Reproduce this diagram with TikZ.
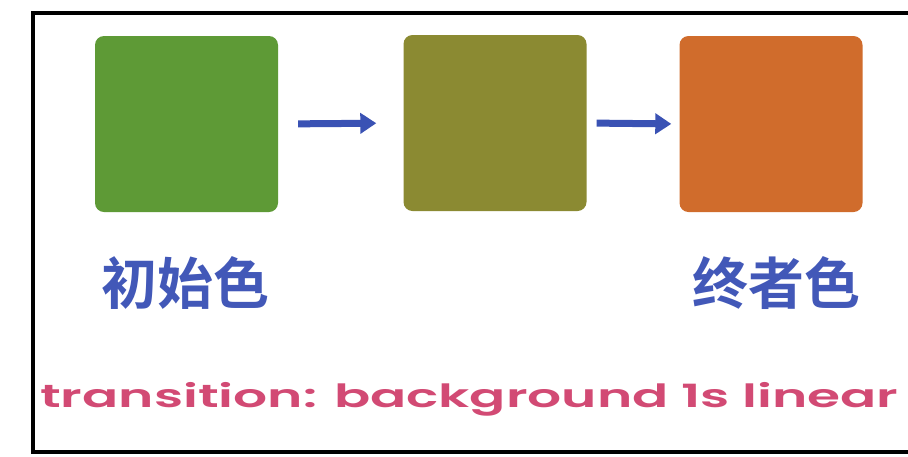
\documentclass[tikz,border=0pt]{standalone}
\usepackage{fontspec}
\setmainfont{Poppins}[BoldFont={* SemiBold}]
\newfontfamily\cjk{Noto Sans CJK SC}[BoldFont={* Bold}]
\usetikzlibrary{arrows.meta}
\definecolor{gA}{HTML}{5E9A36}
\definecolor{gB}{HTML}{8B8A32}
\definecolor{gC}{HTML}{D06C2C}
\definecolor{arr}{HTML}{3A52B4}
\definecolor{lab}{HTML}{4258B8}
\definecolor{pk}{HTML}{D24A74}
\tikzset{
  swatch/.style={rounded corners=9pt, minimum width=183pt, minimum height=176pt, inner sep=0pt, draw=none},
  conn/.style={draw=arr, line width=7pt, -{Triangle[length=16pt,width=20pt]}},
  cjklabel/.style={font=\cjk\bfseries\fontsize{56}{60}\selectfont, text=lab, inner sep=0pt},
}
\begin{document}
\begin{tikzpicture}[x=1pt,y=-1pt]
\useasboundingbox (0,0) rectangle (908,456);
\fill[white] (0,0) rectangle (908,456);
\draw[line width=4pt] (910,13) -- (33,13) -- (33,452) -- (910,452);
\node[swatch, fill=gA] (b1) at (186.5,124) {};
\node[swatch, fill=gB] (b2) at (495,123) {};
\node[swatch, fill=gC] (b3) at (771,124) {};
\draw[conn, shorten <=20pt, shorten >=27pt] (b1.east) -- (b2.west);
\draw[conn, shorten <=10pt, shorten >=8pt] (b2.east) -- (b3.west);
\node[cjklabel] (l1) at (185,283) {初始色};
\node[cjklabel] (l3) at (776,283) {终者色};
\node[inner sep=0pt, anchor=base west, text=pk] (t) at (40,407)
  {\scalebox{1.67}[1]{\bfseries\fontsize{32}{34}\selectfont transition: background 1s linear}};
\end{tikzpicture}
\end{document}
